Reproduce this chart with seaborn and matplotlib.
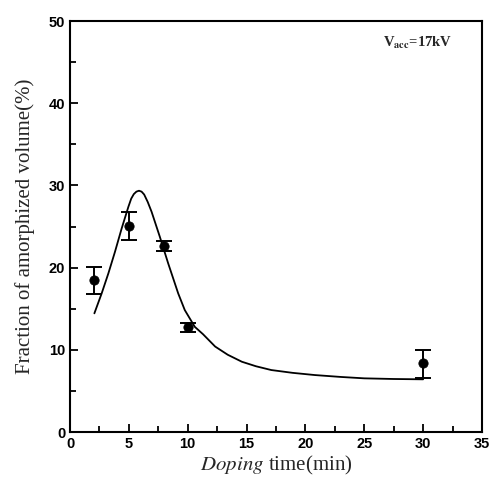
import matplotlib
matplotlib.use("Agg")
import matplotlib.pyplot as plt
from matplotlib.ticker import MultipleLocator
import seaborn as sns
import pandas as pd

# measured data
time_pts = [2, 5, 8, 10, 30]
frac_pts = [18.5, 25.1, 22.6, 12.8, 8.4]
err_low = [16.8, 23.4, 22.0, 12.2, 6.6]
err_high = [20.1, 26.8, 23.2, 13.3, 10.0]

# fitted curve
curve_t = [2.07, 2.69, 3.26, 3.82, 4.39, 4.96, 5.2, 5.42, 5.64, 5.86, 6.08,
           6.3, 6.6, 6.93, 7.63, 8.34, 9.19, 9.75, 10.6, 11.3, 12.33, 13.4,
           14.6, 15.8, 17.1, 18.9, 20.8, 23.0, 25.0, 27.5, 30.0]
curve_y = [14.44, 16.87, 19.31, 21.93, 24.78, 27.41, 28.4, 28.95, 29.25,
           29.36, 29.25, 28.9, 28.0, 26.80, 23.76, 20.52, 16.87, 14.84, 12.8,
           11.9, 10.4, 9.4, 8.55, 8.0, 7.54, 7.2, 6.93, 6.7, 6.53, 6.45, 6.41]

sns.set_style("ticks")
plt.rcParams["mathtext.fontset"] = "stix"
plt.rcParams["font.family"] = ["Liberation Serif", "DejaVu Serif"]

fig = plt.figure(figsize=(4.91, 4.80), dpi=100)
ax = fig.add_axes([0.1426, 0.10, 0.839, 0.856])

df_pts = pd.DataFrame({"t": time_pts, "f": frac_pts})
df_curve = pd.DataFrame({"t": curve_t, "f": curve_y})

sns.lineplot(data=df_curve, x="t", y="f", ax=ax, color="black", lw=1.3,
             sort=False, solid_joinstyle="round")
yerr = [[f - lo for f, lo in zip(frac_pts, err_low)],
        [hi - f for f, hi in zip(frac_pts, err_high)]]
ax.errorbar(time_pts, frac_pts, yerr=yerr, fmt="none", ecolor="black",
            elinewidth=1.4, capsize=6, capthick=1.4, zorder=3)
sns.scatterplot(data=df_pts, x="t", y="f", ax=ax, color="black", s=45,
                edgecolor="black", zorder=4)

ax.set_xlim(0, 35)
ax.set_ylim(0, 50)
ax.xaxis.set_major_locator(MultipleLocator(5))
ax.xaxis.set_minor_locator(MultipleLocator(2.5))
ax.yaxis.set_major_locator(MultipleLocator(10))
ax.yaxis.set_minor_locator(MultipleLocator(5))
ax.tick_params(which="both", direction="in", top=False, right=False,
               width=1.3, colors="black")
ax.tick_params(which="major", length=6)
ax.tick_params(which="minor", length=4)
for lab in ax.get_xticklabels() + ax.get_yticklabels():
    lab.set_fontfamily("Liberation Sans")
    lab.set_fontweight("bold")
    lab.set_fontsize(10.5)
for sp in ax.spines.values():
    sp.set_linewidth(1.5)
    sp.set_color("black")

ax.set_xlabel(r"$\mathit{Doping}$ time(min)", fontsize=15, labelpad=2)
ax.set_ylabel("Fraction of amorphized volume(%)", fontsize=15, labelpad=10)

ax.text(26.6, 47.3, r"V$_{\mathbf{acc}}$=17kV", fontsize=10.5,
        fontweight="bold", va="center", ha="left")

fig.savefig("out.png", dpi=100)
